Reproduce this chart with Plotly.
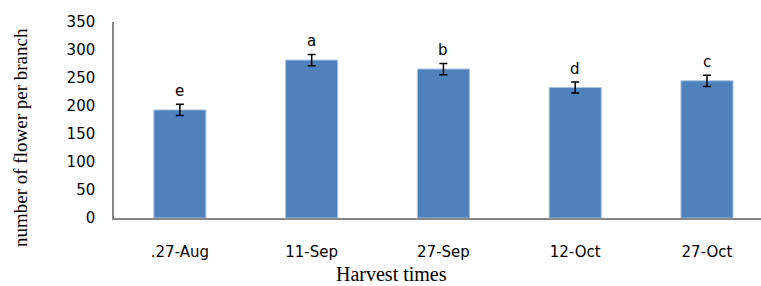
import plotly.graph_objects as go

categories = [".27-Aug", "11-Sep", "27-Sep", "12-Oct", "27-Oct"]
values = [193, 282, 266, 233, 245]
errors = [10, 10, 10, 10, 10]
letters = ["e", "a", "b", "d", "c"]

fig = go.Figure()
fig.add_trace(go.Bar(
    x=categories, y=values,
    marker=dict(color="#4F81BD", line=dict(color="#A9C1DF", width=1)),
    width=0.395,
    error_y=dict(type="data", array=errors, color="black", thickness=1.5, width=4),
))

for c, v, e, l in zip(categories, values, errors, letters):
    fig.add_annotation(x=c, y=v + e, text=l, showarrow=False, yanchor="bottom", yshift=2,
                       font=dict(family="DejaVu Sans", size=15, color="black"))

fig.add_annotation(xref="paper", yref="paper", x=(391 - 114) / (761 - 114), y=-(286 - 218) / 196,
                   text="Harvest times", showarrow=False, xanchor="center", yanchor="bottom",
                   borderpad=0,
                   font=dict(family="Liberation Serif", size=20, color="black"))
fig.add_annotation(xref="paper", yref="paper", x=(20 - 114) / (761 - 114), y=(218 - 138) / 196,
                   text="number of flower per branch", showarrow=False, textangle=-90,
                   xanchor="center", yanchor="middle",
                   font=dict(family="Liberation Serif", size=19, color="black"))

fig.update_layout(
    width=761, height=286,
    margin=dict(l=114, r=0, t=22, b=68),
    paper_bgcolor="white", plot_bgcolor="white",
    showlegend=False,
    font=dict(family="DejaVu Sans", size=15, color="black"),
)
fig.update_xaxes(range=[-0.5, 4.41], showline=True, linecolor="#868686", linewidth=1.5,
                 showgrid=False, ticks="", ticklabelstandoff=19,
                 tickfont=dict(family="DejaVu Sans", size=15, color="black"))
fig.update_yaxes(range=[0, 350], dtick=50, showline=True, linecolor="#868686", linewidth=1.5,
                 showgrid=False, zeroline=False, ticks="", ticklabelstandoff=14,
                 tickfont=dict(family="DejaVu Sans", size=15, color="black"))

fig.write_html("out.html", config={"displayModeBar": False},
               post_script="document.body.style.margin='0';document.body.style.overflow='hidden';")
